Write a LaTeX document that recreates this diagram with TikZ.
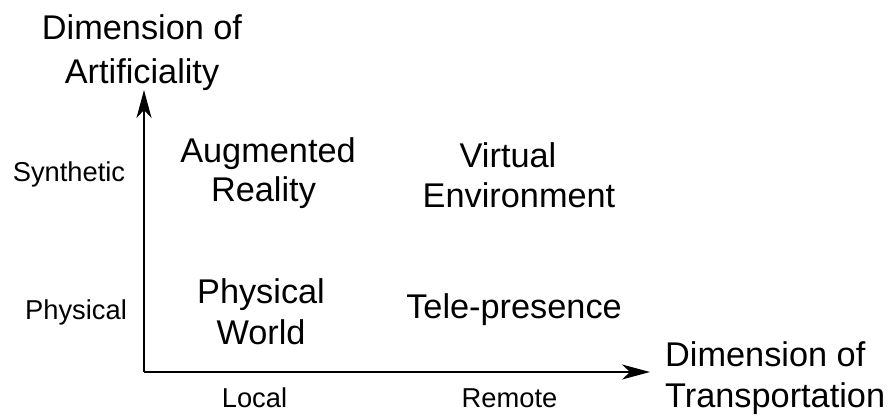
\documentclass[tikz,border=0pt]{standalone}
\usepackage{fontspec}
\setmainfont{Liberation Sans}
\usetikzlibrary{arrows.meta}
\begin{document}
\begin{tikzpicture}[x=1pt,y=-1pt,
  big/.style={inner sep=0pt,anchor=base,font=\fontsize{34.3}{40}\selectfont},
  small/.style={inner sep=0pt,anchor=base,font=\fontsize{27.3}{32}\selectfont},
  axis/.style={line width=1.8pt,-{Stealth[length=28pt,width=15pt,inset=8pt]}}]
\useasboundingbox (0,0) rectangle (893,416);
\coordinate (origin) at (144,372);
\coordinate (ytip) at (144,90);
\coordinate (xtip) at (650,372);
\draw[axis] (origin) -- (ytip);
\draw[axis] (origin) -- (xtip);
% axis titles
\node[big] (ya1) at (142,39) {Dimension of};
\node[big] (ya2) at (142,83) {Artificiality};
\node[big,anchor=base west] (xa1) at (665,366) {Dimension of};
\node[big,anchor=base west] (xa2) at (665,407) {Transportation};
% tick labels
\node[small] (syn) at (69,181) {Synthetic};
\node[small] (phy) at (76,319) {Physical};
\node[small] (loc) at (254.5,407) {Local};
\node[small] (rem) at (509.5,407) {Remote};
% quadrant labels
\node[big] (ar1) at (268,162) {Augmented};
\node[big] (ar2) at (263.5,201) {Reality};
\node[big] (ve1) at (508,167) {Virtual};
\node[big] (ve2) at (519,207) {Environment};
\node[big] (pw1) at (261,303) {Physical};
\node[big] (pw2) at (261,344) {World};
\node[big] (tp) at (514,318) {Tele-presence};
\end{tikzpicture}
\end{document}
